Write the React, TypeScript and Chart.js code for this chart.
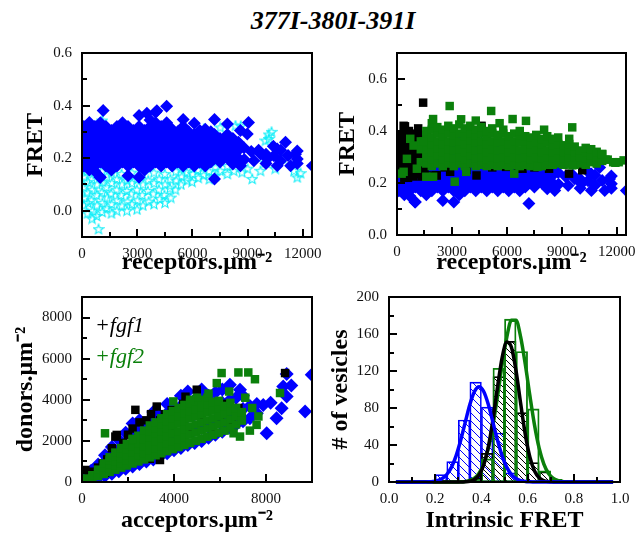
import React, { useEffect, useRef } from "react";
import { Chart, registerables } from "chart.js";
Chart.register(...registerables);

const SERIF = "'Liberation Serif', 'Times New Roman', Times, serif";
const BLUE = "#0000ff";
const CYAN = "#10eef8";
const BLACK = "#000000";
const GREEN = "#0b800b";

const mainTitle = "377I-380I-391I";
const legendLabels = ["+fgf1", "+fgf2"];

// ---------- panel 1 & 2: receptors vs FRET ----------
// blue: dense band, listed column by column [receptors, FRET values...]
const blueColumns: [number, number[]][] = [
  [100, [0.17, 0.20, 0.23, 0.26, 0.29, 0.32]],
  [400, [0.155, 0.185, 0.215, 0.245, 0.275, 0.305, 0.336]],
  [700, [0.15, 0.17, 0.20, 0.23, 0.26, 0.29, 0.32]],
  [1000, [0.127, 0.185, 0.215, 0.245, 0.275, 0.305, 0.335]],
  [1300, [0.17, 0.20, 0.23, 0.26, 0.29, 0.32]],
  [1600, [0.155, 0.185, 0.215, 0.245, 0.275, 0.305]],
  [1900, [0.17, 0.20, 0.23, 0.26, 0.29, 0.32]],
  [2200, [0.185, 0.215, 0.245, 0.275, 0.305, 0.335]],
  [2500, [0.133, 0.17, 0.20, 0.23, 0.26, 0.29, 0.32]],
  [2800, [0.185, 0.215, 0.245, 0.275, 0.305]],
  [3100, [0.127, 0.17, 0.20, 0.23, 0.26, 0.29, 0.32, 0.362]],
  [3400, [0.155, 0.185, 0.215, 0.245, 0.275, 0.305]],
  [3700, [0.17, 0.20, 0.23, 0.26, 0.29, 0.32, 0.345]],
  [4000, [0.185, 0.215, 0.245, 0.275, 0.305, 0.335, 0.375]],
  [4300, [0.17, 0.20, 0.23, 0.26, 0.29, 0.32]],
  [4600, [0.185, 0.215, 0.245, 0.275, 0.305, 0.335, 0.397]],
  [4900, [0.17, 0.20, 0.23, 0.26, 0.29, 0.31]],
  [5200, [0.185, 0.215, 0.245, 0.275, 0.30]],
  [5500, [0.17, 0.20, 0.23, 0.26, 0.29, 0.32, 0.347]],
  [5800, [0.185, 0.215, 0.245, 0.275, 0.30]],
  [6100, [0.17, 0.20, 0.23, 0.26, 0.29, 0.333]],
  [6400, [0.185, 0.215, 0.245, 0.275, 0.305]],
  [6700, [0.17, 0.20, 0.23, 0.26, 0.29, 0.31]],
  [7000, [0.185, 0.215, 0.245, 0.275, 0.30]],
  [7200, [0.121, 0.20, 0.23, 0.26, 0.29, 0.347]],
  [7500, [0.185, 0.215, 0.245, 0.275]],
  [7900, [0.20, 0.23, 0.26, 0.29, 0.33]],
  [8200, [0.178, 0.215, 0.245, 0.275]],
  [8500, [0.20, 0.23, 0.26]],
];
const blueScatter: [number, number][] = [
  [1150,0.381],[3525,0.371],[4070,0.38],[436,0.165],[980,0.127],
  [8610,0.305],[8610,0.171],[8800,0.24],[8820,0.195],[8980,0.292],[9050,0.336],
  [9200,0.225],[9340,0.19],[9600,0.23],[9700,0.216],
  [10000,0.215],[10070,0.197],[10000,0.18],
  [10430,0.209],[10400,0.245],[10610,0.235],[10610,0.171],
  [10800,0.23],[10800,0.19],[11060,0.26],
  [11200,0.21],[11340,0.171],
  [11600,0.215],[11700,0.227],[11700,0.197],[11700,0.18],
  [12520,0.171],
];

const cyanRecFret: [number, number][] = [
  [100,0.25],[120,0.21],[80,0.17],[110,0.13],[90,0.09],[130,0.05],[100,0.02],[60,0.23],[50,0.19],
  [300,0.23],[320,0.19],[280,0.15],[310,0.11],[290,0.07],[330,0.03],[300,-0.01],
  [550,0.26],[530,0.20],[570,0.16],[540,0.12],[560,0.08],[520,0.04],[580,0.0],[550,-0.03],
  [800,0.18],[780,0.14],[820,0.10],[790,0.06],[810,0.02],[800,-0.02],
  [900,-0.07],[980,0.335],
  [1100,0.343],[1080,0.15],[1120,0.11],[1090,0.07],[1110,0.03],[1100,-0.005],
  [1350,0.13],[1330,0.09],[1370,0.05],[1340,0.01],
  [1600,0.145],[1620,0.105],[1580,0.065],[1610,0.025],[1600,-0.01],
  [1900,0.12],[1880,0.08],[1920,0.04],[1890,0.0],
  [2150,0.14],[2170,0.10],[2130,0.06],[2160,0.02],
  [2450,0.115],[2430,0.075],[2470,0.035],[2440,0.0],
  [2700,0.145],[2720,0.105],[2680,0.065],[2710,0.025],
  [3000,0.12],[2980,0.08],[3020,0.04],[2990,0.005],
  [3300,0.14],[3320,0.10],[3280,0.06],[3310,0.02],
  [3600,0.115],[3580,0.075],[3620,0.035],
  [3900,0.145],[3920,0.105],[3880,0.065],[3910,0.025],
  [4200,0.12],[4180,0.08],[4220,0.045],
  [4500,0.14],[4520,0.10],[4480,0.06],[4510,0.03],
  [4800,0.12],[4780,0.085],[4820,0.05],
  [5100,0.15],[5120,0.115],[5080,0.08],
  [5400,0.16],[5420,0.13],[5380,0.10],
  [5700,0.145],[5720,0.115],
  [6000,0.17],[6020,0.14],[5980,0.11],
  [6300,0.155],[6320,0.125],
  [6600,0.165],[6620,0.135],[6620,0.311],
  [6900,0.15],[6920,0.12],
  [7250,0.133],[7250,0.165],
  [7520,0.152],[7520,0.317],
  [7900,0.17],[7900,0.14],
  [8250,0.152],[8250,0.185],[8340,0.324],[8630,0.323],[8700,0.146],[9000,0.16],
  [9250,0.121],[9700,0.152],[9970,0.184],[9970,0.267],[10150,0.29],[10150,0.273],
  [10300,0.30],[10500,0.16],[10900,0.2],[11520,0.152],[11520,0.178],[11700,0.127],[11880,0.143],
];

const blackRecFret: [number, number][] = [
  [100,0.31],[150,0.26],[200,0.35],[250,0.29],[300,0.24],[350,0.33],[434,0.418],[400,0.27],
  [450,0.37],[500,0.30],[550,0.25],[600,0.34],[650,0.28],[700,0.23],[750,0.37],[800,0.31],
  [850,0.26],[900,0.39],[950,0.33],[1000,0.28],[1050,0.235],[1100,0.36],[1156,0.41],[1200,0.30],
  [1250,0.26],[1300,0.34],[1350,0.225],[1400,0.29],[1427,0.509],[1450,0.38],[1500,0.25],
  [1550,0.32],[1600,0.27],[361,0.42],[163,0.32],[342,0.306],[1800,0.229],[2170,0.229],
  [2150,0.23],[2900,0.243],[4340,0.229],[4610,0.42],[4595,0.418],[5950,0.262],[6850,0.255],
  [8300,0.255],[9390,0.236],[10110,0.249],[8030,0.274],[3800,0.25],[5200,0.26],[2600,0.26],
  [7500,0.26],[600,0.22],[900,0.225],[1200,0.235],[6600,0.255],
  [200,0.28],[500,0.36],[700,0.33],[900,0.27],[1100,0.31],[1300,0.38],[1500,0.35],[1700,0.30],
  [250,0.38],[650,0.4],[1000,0.36],[1200,0.27],[400,0.22],[800,0.25],
];

const greenColumns: [number, number[]][] = [
  [1300, [0.28, 0.33, 0.36]],
  [1600, [0.275, 0.30, 0.33, 0.355, 0.385, 0.40]],
  [1900, [0.265, 0.29, 0.32, 0.35, 0.375, 0.405, 0.43]],
  [2200, [0.275, 0.305, 0.335, 0.36, 0.39, 0.415]],
  [2500, [0.265, 0.29, 0.32, 0.35, 0.38, 0.405]],
  [2800, [0.275, 0.30, 0.33, 0.36, 0.39, 0.42]],
  [3100, [0.265, 0.295, 0.325, 0.355, 0.385, 0.41]],
  [3400, [0.275, 0.30, 0.33, 0.36, 0.39, 0.425]],
  [3700, [0.265, 0.29, 0.32, 0.35, 0.38, 0.41]],
  [4000, [0.275, 0.305, 0.335, 0.365, 0.39, 0.42]],
  [4300, [0.265, 0.295, 0.325, 0.355, 0.385, 0.405]],
  [4600, [0.27, 0.30, 0.33, 0.36, 0.39, 0.415]],
  [4900, [0.265, 0.29, 0.32, 0.35, 0.38, 0.40]],
  [5200, [0.27, 0.30, 0.33, 0.36, 0.39, 0.41]],
  [5500, [0.265, 0.295, 0.325, 0.355, 0.385]],
  [5800, [0.27, 0.30, 0.33, 0.36, 0.39, 0.405]],
  [6100, [0.265, 0.29, 0.32, 0.35, 0.38]],
  [6400, [0.27, 0.30, 0.33, 0.36, 0.39]],
  [6700, [0.265, 0.295, 0.325, 0.355, 0.385, 0.40]],
  [7000, [0.27, 0.30, 0.33, 0.36, 0.38]],
  [7300, [0.265, 0.29, 0.32, 0.35, 0.375]],
  [7600, [0.27, 0.30, 0.33, 0.355, 0.385]],
  [7900, [0.265, 0.295, 0.32, 0.35, 0.37]],
  [8200, [0.27, 0.30, 0.325, 0.355, 0.38]],
  [8500, [0.27, 0.295, 0.32, 0.345, 0.37]],
  [8800, [0.275, 0.30, 0.325, 0.35, 0.375]],
  [9100, [0.27, 0.295, 0.32, 0.345]],
  [9400, [0.275, 0.30, 0.325, 0.35, 0.37]],
  [9700, [0.27, 0.295, 0.32, 0.34]],
  [10000, [0.275, 0.30, 0.325]],
  [10300, [0.27, 0.295, 0.32, 0.335]],
  [10600, [0.28, 0.305, 0.33]],
  [10900, [0.275, 0.30, 0.32]],
  [11200, [0.285, 0.31]],
  [11500, [0.29]],
  [11800, [0.28]],
  [12100, [0.28]],
];
const greenScatter: [number, number][] = [
  [253,0.236],[361,0.243],[542,0.293],[723,0.37],[904,0.344],[1085,0.255],[1450,0.36],
  [2875,0.496],[5140,0.477],[1970,0.446],[7040,0.439],[6310,0.446],[8030,0.405],[9565,0.414],
  [3150,0.205],[1970,0.224],[1600,0.224],[3780,0.243],[6400,0.236],[7670,0.262],[12370,0.287],
  [11920,0.278],[11380,0.29],[11200,0.312],[9570,0.268],[4300,0.44],[3500,0.445],[5600,0.43],
];

// ---------- panel 3: acceptors vs donors ----------
const blueAccDon: [number, number][] = [
  [150,60],[150,200],[400,120],[400,320],[400,550],[700,200],[700,480],[700,850],
  [1000,300],[1000,650],[1000,1000],[1000,1300],[1300,400],[1300,800],[1300,1250],[1300,1700],
  [1600,520],[1600,1000],[1600,1500],[1600,2050],[1900,640],[1900,1150],[1900,1700],[1900,2400],
  [2200,760],[2200,1300],[2200,1900],[2200,2450],[2200,2850],
  [2500,880],[2500,1450],[2500,2050],[2500,2650],[2500,3000],
  [2800,1000],[2800,1600],[2800,2200],[2800,2800],
  [3100,1100],[3100,1750],[3100,2400],[3100,3050],[3100,3400],
  [3400,1250],[3400,1900],[3400,2550],[3400,3200],
  [3700,1400],[3700,2050],[3700,2700],[3700,3350],[3700,3800],
  [4000,1550],[4000,2200],[4000,2850],[4000,3500],
  [4300,1650],[4300,2350],[4300,3050],[4300,3700],[4300,4200],
  [4600,1800],[4600,2500],[4600,3200],[4600,3900],[4600,4400],
  [4900,1900],[4900,2600],[4900,3300],[4900,4000],
  [5200,2000],[5200,2700],[5200,3400],[5200,4100],[5200,4500],
  [5500,2150],[5500,2850],[5500,3550],[5500,4200],
  [5800,2300],[5800,3000],[5800,3700],[5800,4350],
  [6100,2450],[6100,3150],[6100,3850],[6100,4500],
  [6400,2650],[6400,3300],[6400,3950],[6430,4730],
  [6700,2800],[6700,3450],[6700,4100],[6870,4490],
  [7000,2950],[7000,3550],[7000,4200],[7300,3100],[7300,3700],[7600,3350],[7600,3800],
  [8030,2370],[8460,3100],[8680,3590],[8750,4650],[8900,4160],[8900,5250],[9700,3430],
  [9990,5220],[7880,3750],[8200,3850],[9100,4700],
];

const blackAccDon: [number, number][] = [
  [100,80],[145,585],[300,250],[400,500],[600,350],[700,700],[800,500],[900,900],[1000,450],
  [1100,1100],[1200,700],[1300,1640],[1450,2210],[1510,2290],[1400,1200],[1600,900],[1700,1500],
  [1800,1900],[1900,1200],[2000,2300],[2100,1600],[2200,2600],[2320,3510],[2400,2000],[2500,2900],
  [2600,1400],[2700,2400],[2800,3000],[2950,1130],[3000,2100],[3100,2700],[3250,3670],[3390,1070],
  [3400,3000],[3500,2300],[3600,3300],[3800,2600],[3900,3500],[4000,1800],[4200,3000],[4400,3800],
  [4600,2600],[4800,3400],[4990,4490],[5200,3000],[5520,3640],[5700,2400],[6000,3200],[6200,3800],
  [6500,2900],[8830,5300],[4500,4150],[3000,3300],[6800,3600],
];

const greenColumns3: [number, number[]][] = [
  [200, [90, 170]],
  [450, [190, 330]],
  [700, [290, 450, 600]],
  [950, [390, 560, 740, 900]],
  [1200, [490, 680, 880, 1050, 1200]],
  [1450, [600, 800, 1020, 1230, 1430]],
  [1700, [700, 920, 1150, 1400, 1650]],
  [1950, [800, 1060, 1320, 1580, 1850]],
  [2200, [900, 1180, 1460, 1740, 2050]],
  [2450, [1000, 1300, 1600, 1900, 2250]],
  [2700, [1100, 1420, 1740, 2060, 2250, 2500]],
  [2950, [1200, 1530, 1860, 2190, 2450, 2750]],
  [3200, [1300, 1650, 2000, 2350, 2600, 2900]],
  [3450, [1400, 1760, 2120, 2480, 2800, 3100]],
  [3700, [1500, 1870, 2240, 2610, 2950, 3300]],
  [3950, [1600, 1980, 2360, 2740, 3100, 3450]],
  [4200, [1700, 2080, 2460, 2840, 3220, 3600]],
  [4450, [1800, 2190, 2580, 2970, 3350, 3750]],
  [4700, [1900, 2300, 2700, 3100, 3450, 3850]],
  [4950, [2000, 2400, 2800, 3200, 3550, 3950]],
  [5200, [2100, 2500, 2900, 3300, 3650, 4000]],
  [5450, [2200, 2600, 3000, 3400, 3800, 4100]],
  [5700, [2300, 2700, 3100, 3500, 3900]],
  [5950, [2400, 2800, 3200, 3600, 3950]],
  [6200, [2500, 2900, 3300, 3700]],
  [6450, [2650, 3050, 3450, 3850]],
  [6700, [2800, 3200, 3600]],
  [6950, [3000, 3400]],
];
const greenScatter3: [number, number][] = [
  [1000,2370],[3970,3920],[6070,5300],[6800,5330],[7230,5330],[7520,5000],[5860,4810],[7670,3190],
  [6870,2210],[6590,2370],[7590,2780],[8610,4330],[6400,4400],[5500,4300],[7100,4100],[7400,3600],
  [6950,3000],[5000,4100],[4700,4000],[2200,2100],[7300,2500],
];

// ---------- panel 4: histograms and fits ----------
const binCenters = [0.175,0.225,0.275,0.325,0.375,0.425,0.475,0.525,0.575,0.625,0.675,0.725];
const blueCounts = [0,8,22,67,108,81,53,10,2,0,0,0];
const blackCounts = [0,0,0,0,4,31,114,152,75,21,11,2];
const greenCounts = [0,0,0,0,3,25,123,176,141,79,12,3];

const fitX = [0.03,0.05,0.07,0.09,0.11,0.13,0.15,0.17,0.19,0.21,0.23,0.25,0.27,0.29,0.31,0.33,
  0.35,0.37,0.39,0.41,0.43,0.45,0.47,0.49,0.51,0.53,0.55,0.57,0.59,0.61,0.63,0.65,0.67,0.69,
  0.71,0.73,0.75,0.77,0.79,0.81,0.83,0.85,0.87,0.89,0.91,0.93,0.95,0.97];
const blueFit = [0,0,0,0,0,0,0,0.2,0.6,1.5,3.7,8.1,15.8,28,44.8,64.5,83.7,97.8,103,97.8,83.7,
  64.5,44.8,28,15.8,8.1,3.7,1.5,0.6,0.2,0,0,0,0,0,0,0,0,0,0,0,0,0,0,0,0,0,0];
const blackFit = [0,0,0,0,0,0,0,0,0,0,0,0,0,0,0,0.2,0.8,2.7,7.5,18.3,37.9,67.5,103,134.8,151.3,
  145.6,120.1,84.9,51.5,26.8,11.9,4.6,1.5,0.4,0.1,0,0,0,0,0,0,0,0,0,0,0,0,0];
const greenFit = [0,0,0,0,0,0,0,0,0,0,0,0,0,0,0.2,0.6,1.6,4.1,9.5,19.6,36.6,61.5,93.1,127.2,
  156.6,175,175,156.6,127.2,93.1,61.5,36.6,19.6,9.5,4.1,1.6,0.6,0.2,0,0,0,0,0,0,0,0,0,0];

// ---------- helpers ----------
const frameTicks = {
  id: "frameTicks",
  afterDatasetsDraw(chart: any, _args: any, opts: any) {
    const { ctx, chartArea } = chart;
    const { left, right, top, bottom } = chartArea;
    ctx.save();
    ctx.strokeStyle = "#000";
    ctx.lineWidth = 2;
    ctx.beginPath();
    (["x", "y"] as const).forEach((id) => {
      const sc = chart.scales[id];
      const cfg = opts[id];
      sc.ticks.forEach((t: any) => {
        const k = Math.round(t.value / cfg.step);
        if (k % cfg.mark !== 0) return;
        const len = k % cfg.major === 0 ? 8 : 5;
        const p = Math.round(sc.getPixelForValue(t.value));
        if (id === "x") { ctx.moveTo(p, bottom); ctx.lineTo(p, bottom - len); }
        else { ctx.moveTo(left, p); ctx.lineTo(left + len, p); }
      });
    });
    ctx.stroke();
    ctx.strokeRect(left, top, right - left, bottom - top);
    ctx.restore();
  },
};

const fgfLegend = {
  id: "fgfLegend",
  afterDraw(chart: any) {
    const { ctx, chartArea } = chart;
    ctx.save();
    ctx.font = `italic 22px ${SERIF}`;
    ctx.textBaseline = "alphabetic";
    ctx.textAlign = "left";
    ctx.fillStyle = BLACK;
    ctx.fillText(legendLabels[0], chartArea.left + 13, chartArea.top + 35);
    ctx.fillStyle = GREEN;
    ctx.fillText(legendLabels[1], chartArea.left + 13, chartArea.top + 66);
    ctx.restore();
  },
};

function linAxis(o: {
  min: number; max: number; step: number; every: number; digits: number;
  title: string; titlePad: number; size: number; horizontal: boolean;
}) {
  return {
    type: "linear",
    min: o.min,
    max: o.max,
    offset: false,
    grid: { display: false, drawTicks: false },
    border: { display: false },
    ticks: {
      stepSize: o.step,
      includeBounds: false,
      autoSkip: false,
      maxRotation: 0,
      minRotation: 0,
      padding: o.horizontal ? 8 : 10,
      color: "#111",
      font: { family: SERIF, size: 15 },
      callback: (v: number) => {
        const k = Math.round(v / o.step);
        if (k % o.every !== 0) return "";
        const val = Math.abs(v) < 1e-9 ? 0 : v;
        return Number(val).toFixed(o.digits);
      },
    },
    title: {
      display: true,
      text: o.title,
      color: "#000",
      font: { family: SERIF, size: 24, weight: "bold" },
      padding: o.horizontal ? { top: 0, bottom: o.titlePad } : { top: o.titlePad, bottom: 0 },
    },
    afterFit: (s: any) => {
      if (o.horizontal) s.height = o.size;
      else s.width = o.size;
    },
  };
}

function starImage(color: string) {
  const c = document.createElement("canvas");
  c.width = 12;
  c.height = 12;
  const g = c.getContext("2d")!;
  g.strokeStyle = color;
  g.lineWidth = 1.1;
  g.beginPath();
  for (let i = 0; i < 10; i++) {
    const r = i % 2 === 0 ? 5.2 : 2.2;
    const a = -Math.PI / 2 + (i * Math.PI) / 5;
    const px = 6 + r * Math.cos(a);
    const py = 6.4 + r * Math.sin(a);
    if (i === 0) g.moveTo(px, py);
    else g.lineTo(px, py);
  }
  g.closePath();
  g.stroke();
  return c;
}

function hatch(color: string, s: number) {
  const c = document.createElement("canvas");
  c.width = s;
  c.height = s;
  const g = c.getContext("2d")!;
  g.strokeStyle = color;
  g.lineWidth = 1;
  g.beginPath();
  g.moveTo(0, 0); g.lineTo(s, s);
  g.moveTo(-s / 2, s / 2); g.lineTo(s / 2, s * 1.5);
  g.moveTo(s / 2, -s / 2); g.lineTo(s * 1.5, s / 2);
  g.stroke();
  return g.createPattern(c, "repeat");
}

const pts = (a: [number, number][]) => a.map(([x, y]) => ({ x, y }));
const colPts = (cols: [number, number[]][]) =>
  cols.flatMap(([x, ys]) => ys.map((y) => ({ x, y })));

function baseOptions(padding: any, ticks: any) {
  return {
    animation: false,
    responsive: false,
    events: [],
    layout: { padding },
    plugins: { legend: { display: false }, tooltip: { enabled: false }, frameTicks: ticks },
  };
}

function diamond(data: any[], r = 6.5) {
  return { type: "scatter", data, pointStyle: "rectRot", pointRadius: r,
    backgroundColor: BLUE, borderColor: BLUE, borderWidth: 0, clip: 0 };
}
function square(data: any[], color: string) {
  return { type: "scatter", data, pointStyle: "rect", pointRadius: 6,
    backgroundColor: color, borderColor: color, borderWidth: 0, clip: 0 };
}

const boxes = [
  { left: 0, top: 20, width: 340, height: 260 },
  { left: 320, top: 20, width: 340, height: 260 },
  { left: 0, top: 270, width: 340, height: 265 },
  { left: 320, top: 270, width: 340, height: 265 },
];

export default function App() {
  const r1 = useRef<HTMLCanvasElement>(null);
  const r2 = useRef<HTMLCanvasElement>(null);
  const r3 = useRef<HTMLCanvasElement>(null);
  const r4 = useRef<HTMLCanvasElement>(null);

  useEffect(() => {
    const star = starImage(CYAN);
    const charts: Chart[] = [];
    const blueAll = [...colPts(blueColumns), ...pts(blueScatter)];

    charts.push(new Chart(r1.current!, {
      type: "scatter",
      data: {
        datasets: [
          diamond(blueAll),
          { type: "scatter", data: pts(cyanRecFret), pointStyle: star, pointRadius: 6,
            backgroundColor: CYAN, borderColor: CYAN, clip: 0 },
        ],
      },
      options: {
        ...baseOptions({ top: 33, right: 28, left: 0, bottom: 0 },
          { x: { step: 500, mark: 3, major: 6 }, y: { step: 0.1, mark: 1, major: 2 } }),
        scales: {
          x: linAxis({ min: 0, max: 12500, step: 500, every: 6, digits: 0,
            title: "receptors.μm⁻²", titlePad: 2.6, size: 43, horizontal: true }),
          y: linAxis({ min: -0.1, max: 0.6, step: 0.1, every: 2, digits: 1,
            title: "FRET", titlePad: 21.6, size: 82, horizontal: false }),
        },
      },
      plugins: [frameTicks],
    } as any));

    charts.push(new Chart(r2.current!, {
      type: "scatter",
      data: {
        datasets: [
          square([...colPts(greenColumns), ...pts(greenScatter)], GREEN),
          square(pts(blackRecFret), BLACK),
          diamond(blueAll),
        ],
      },
      options: {
        ...baseOptions({ top: 33, right: 34, left: 0, bottom: 0 },
          { x: { step: 500, mark: 3, major: 6 }, y: { step: 0.1, mark: 1, major: 2 } }),
        scales: {
          x: linAxis({ min: 0, max: 12500, step: 500, every: 6, digits: 0,
            title: "receptors.μm⁻²", titlePad: 2.6, size: 45, horizontal: true }),
          y: linAxis({ min: 0, max: 0.7, step: 0.1, every: 2, digits: 1,
            title: "FRET", titlePad: 13.6, size: 77, horizontal: false }),
        },
      },
      plugins: [frameTicks],
    } as any));

    charts.push(new Chart(r3.current!, {
      type: "scatter",
      data: {
        datasets: [
          square([...colPts(greenColumns3), ...pts(greenScatter3)], GREEN),
          square(pts(blackAccDon), BLACK),
          diamond(pts(blueAccDon), 7),
        ],
      },
      options: {
        ...baseOptions({ top: 27, right: 28, left: 0, bottom: 0 },
          { x: { step: 2000, mark: 1, major: 2 }, y: { step: 1000, mark: 1, major: 2 } }),
        scales: {
          x: linAxis({ min: 0, max: 10000, step: 2000, every: 2, digits: 0,
            title: "acceptors.μm⁻²", titlePad: 0, size: 53, horizontal: true }),
          y: linAxis({ min: 0, max: 9000, step: 1000, every: 2, digits: 0,
            title: "donors.μm⁻²", titlePad: 11.6, size: 82, horizontal: false }),
        },
      },
      plugins: [frameTicks, fgfLegend],
    } as any));

    const bluePat = hatch(BLUE, 8);
    const blackPat = hatch(BLACK, 6);
    const curve = (ys: number[], color: string) => ({
      type: "line", data: fitX.map((x, i) => ({ x, y: ys[i] })), borderColor: color,
      borderWidth: 3.5, pointRadius: 0, fill: false, cubicInterpolationMode: "monotone", clip: false,
    });
    const bars = (counts: number[], color: string, bg: any, bw: number) => ({
      type: "bar", data: binCenters.map((x, i) => ({ x, y: counts[i] > 0 ? counts[i] : null })),
      backgroundColor: bg, borderColor: color, borderWidth: bw, borderSkipped: false,
      barPercentage: 1, categoryPercentage: 1, grouped: false, clip: 0,
    });

    charts.push(new Chart(r4.current!, {
      type: "bar",
      data: {
        datasets: [
          curve(blueFit, BLUE),
          curve(blackFit, BLACK),
          curve(greenFit, GREEN),
          bars(greenCounts, GREEN, "rgba(0,0,0,0)", 1.2),
          bars(blackCounts, BLACK, blackPat, 1),
          bars(blueCounts, BLUE, bluePat, 1),
        ],
      },
      options: {
        ...baseOptions({ top: 27, right: 40, left: 0, bottom: 0 },
          { x: { step: 0.1, mark: 1, major: 2 }, y: { step: 20, mark: 1, major: 2 } }),
        scales: {
          x: linAxis({ min: 0, max: 1, step: 0.1, every: 2, digits: 1,
            title: "Intrinsic FRET", titlePad: 0, size: 53, horizontal: true }),
          y: linAxis({ min: 0, max: 200, step: 20, every: 2, digits: 0,
            title: "# of vesicles", titlePad: 6.6, size: 69, horizontal: false }),
        },
      },
      plugins: [frameTicks],
    } as any));

    return () => charts.forEach((c) => c.destroy());
  }, []);

  const refs = [r1, r2, r3, r4];
  return (
    <div style={{ position: "absolute", left: 0, top: 0, width: 637, height: 535,
      overflow: "hidden", background: "#fff" }}>
      <div style={{ position: "absolute", left: 0, top: 6, width: 666, textAlign: "center",
        fontFamily: SERIF, fontSize: 26, fontWeight: "bold", fontStyle: "italic",
        lineHeight: "30px", color: "#000" }}>{mainTitle}</div>
      {boxes.map((b, i) => (
        <canvas key={i} ref={refs[i]} width={b.width} height={b.height}
          style={{ position: "absolute", left: b.left, top: b.top, width: b.width, height: b.height }} />
      ))}
    </div>
  );
}
